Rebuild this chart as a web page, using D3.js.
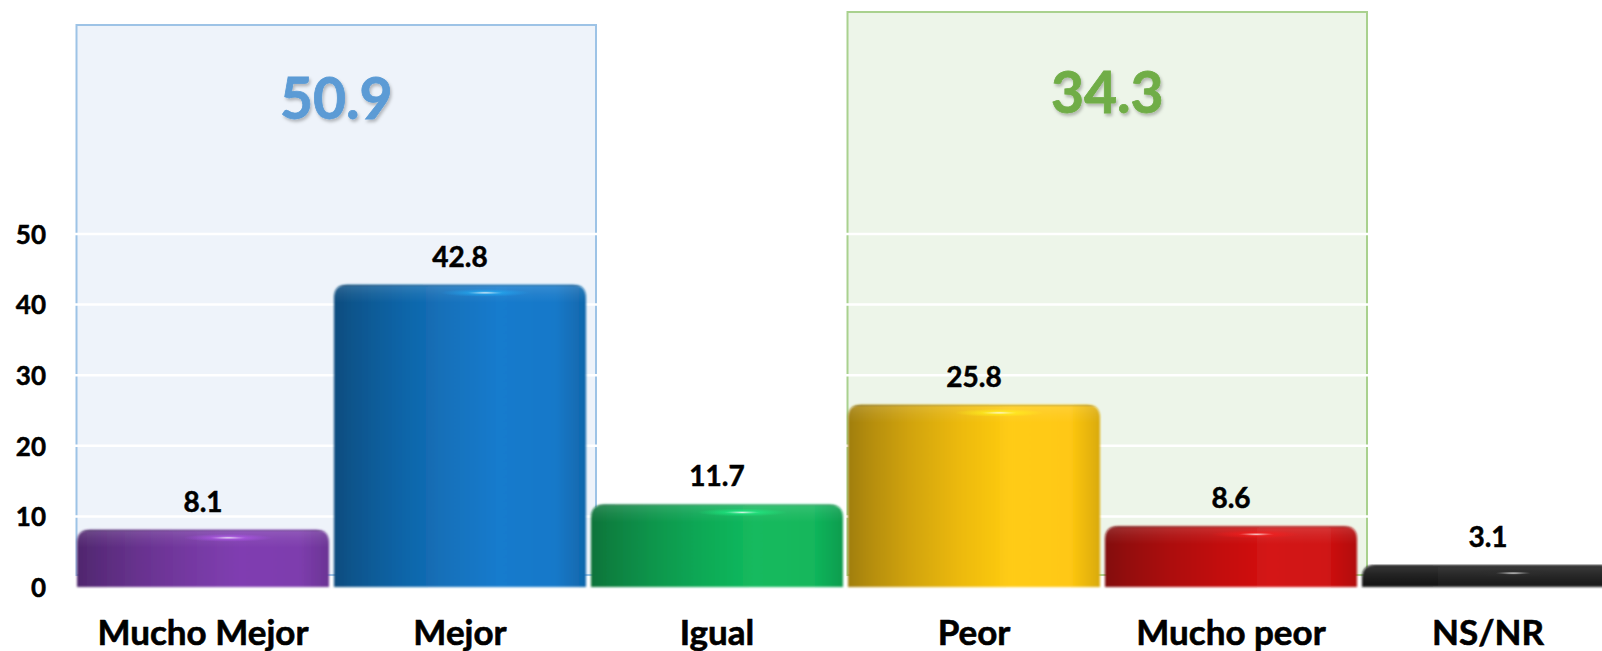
<!DOCTYPE html>
<html><head><meta charset="utf-8">
<script src="https://cdn.jsdelivr.net/npm/d3@7"></script>
<style>
body{margin:0;background:#fff;overflow:hidden;}
svg{display:block;}
text{font-family:Lato,'Open Sans',sans-serif;font-weight:700;}
</style>
</head><body>
<svg id="c" width="1602" height="651"></svg>
<script>
// ---- data ----
const categories = ["Mucho Mejor", "Mejor", "Igual", "Peor", "Mucho peor", "NS/NR"];
const values = [8.1, 42.8, 11.7, 25.8, 8.6, 3.1];
const barColors = ["#7E3DAE", "#1479C9", "#12B75C", "#FFC812", "#D01212", "#1E1E1E"];
const yTicks = [0, 10, 20, 30, 40, 50];
const groupLabels = ["50.9", "34.3"];
const groupFirst = ["Mucho Mejor", "Peor"];
const groupLast = ["Mejor", "Mucho peor"];
const groupStroke = ["#9DC3E6", "#A9D18E"];
const groupFill = ["#EEF3FA", "#EDF5E9"];
const groupTextColor = ["#5B9BD5", "#70AD47"];

// ---- layout ----
const W = 1602, H = 651;
const groupTop = [25, 12];
const groupBaseline = [119, 113];
const groupBottom = 575;

const svg = d3.select("#c");
const x = d3.scaleBand().domain(categories).range([77, 1614]).paddingInner(0.0195).paddingOuter(0);
const y = d3.scaleLinear().domain([0, 50]).range([587, 234]);

const defs = svg.append("defs");
const sh = defs.append("filter").attr("id", "tshadow").attr("x", "-20%").attr("y", "-20%").attr("width", "140%").attr("height", "140%");
sh.append("feDropShadow").attr("dx", 1.5).attr("dy", 2.5).attr("stdDeviation", 1.5).attr("flood-color", "#000").attr("flood-opacity", 0.25);
const soft = defs.append("filter").attr("id", "soft").attr("x", "-5%").attr("y", "-5%").attr("width", "110%").attr("height", "110%");
soft.append("feGaussianBlur").attr("stdDeviation", 0.9);

barColors.forEach((c, i) => {
  const base = d3.color(c);
  const g = defs.append("linearGradient").attr("id", "bg" + i).attr("x1", 0).attr("x2", 1).attr("y1", 0).attr("y2", 0);
  const stops = [
    [0, base.darker(1.3)],
    [0.08, base.darker(1.0)],
    [0.25, base.darker(0.55)],
    [0.45, base.darker(0.2)],
    [0.65, base.brighter(0.05)],
    [0.88, base],
    [1, base.darker(0.45)]
  ];
  stops.forEach(s => g.append("stop").attr("offset", s[0]).attr("stop-color", s[1].formatHex()));
  const hl = defs.append("radialGradient").attr("id", "hl" + i);
  hl.append("stop").attr("offset", 0).attr("stop-color", "#fff").attr("stop-opacity", 0.85);
  hl.append("stop").attr("offset", 0.4).attr("stop-color", base.brighter(1.2).formatHex()).attr("stop-opacity", 0.45);
  hl.append("stop").attr("offset", 1).attr("stop-color", base.brighter(1).formatHex()).attr("stop-opacity", 0);
});
const cap = defs.append("linearGradient").attr("id", "cap").attr("x1", 0).attr("x2", 0).attr("y1", 0).attr("y2", 1);
cap.append("stop").attr("offset", 0).attr("stop-color", "#000").attr("stop-opacity", 0.15);
cap.append("stop").attr("offset", 0.15).attr("stop-color", "#fff").attr("stop-opacity", 0.12);
cap.append("stop").attr("offset", 0.5).attr("stop-color", "#fff").attr("stop-opacity", 0.06);
cap.append("stop").attr("offset", 1).attr("stop-color", "#fff").attr("stop-opacity", 0);

// ---- group boxes ----
groupLabels.forEach((lab, i) => {
  const x0 = x(groupFirst[i]) - 0.5;
  const x1 = x(groupLast[i]) + x.step() + 5;
  svg.append("rect")
    .attr("x", x0).attr("y", groupTop[i])
    .attr("width", x1 - x0).attr("height", groupBottom - groupTop[i])
    .attr("fill", groupFill[i]).attr("stroke", groupStroke[i]).attr("stroke-width", 2);
});

// ---- gridlines ----
svg.append("g").selectAll("line").data(yTicks.filter(t => t > 0)).join("line")
  .attr("x1", 75).attr("x2", 1614)
  .attr("y1", d => y(d)).attr("y2", d => y(d))
  .attr("stroke", "#fff").attr("stroke-width", 2.5);

// group labels
groupLabels.forEach((lab, i) => {
  const x0 = x(groupFirst[i]) - 0.5;
  const x1 = x(groupLast[i]) + x.step() + 5;
  svg.append("text")
    .attr("x", (x0 + x1) / 2).attr("y", groupBaseline[i])
    .attr("text-anchor", "middle")
    .attr("font-size", 57)
    .attr("fill", groupTextColor[i])
    .attr("stroke", groupTextColor[i]).attr("stroke-width", 0.8)
    .attr("filter", "url(#tshadow)")
    .text(lab);
});

// ---- bars ----
const r = 13;
function barPath(x0, w, top, bottom) {
  const rr = Math.min(r, (bottom - top));
  return `M${x0},${bottom}L${x0},${top + rr}Q${x0},${top} ${x0 + rr},${top}L${x0 + w - rr},${top}Q${x0 + w},${top} ${x0 + w},${top + rr}L${x0 + w},${bottom}Z`;
}
const bars = svg.append("g").selectAll("g").data(categories).join("g");
bars.append("path")
  .attr("d", (d, i) => barPath(x(d), x.bandwidth(), y(values[i]), y(0)))
  .attr("fill", (d, i) => `url(#bg${i})`)
  .attr("filter", "url(#soft)");
bars.append("path")
  .attr("d", (d, i) => barPath(x(d), x.bandwidth(), y(values[i]), Math.min(y(0), y(values[i]) + 18)))
  .attr("fill", "url(#cap)");
bars.append("ellipse")
  .attr("cx", d => x(d) + x.bandwidth() * 0.6)
  .attr("cy", (d, i) => y(values[i]) + 8)
  .attr("rx", 45).attr("ry", 4)
  .attr("fill", (d, i) => `url(#hl${i})`);

// value labels
svg.append("g").selectAll("text").data(categories).join("text")
  .attr("x", d => x(d) + x.bandwidth() / 2)
  .attr("y", (d, i) => y(values[i]) - 18)
  .attr("text-anchor", "middle")
  .attr("font-size", 28)
  .attr("fill", "#000").attr("stroke", "#000").attr("stroke-width", 0.5)
  .text((d, i) => values[i].toFixed(1));

// ---- y axis labels ----
const yAxis = d3.axisLeft(y).tickValues(yTicks).tickSize(0).tickPadding(0).tickFormat(d3.format("d"));
const ya = svg.append("g").attr("transform", "translate(46,1)").call(yAxis);
ya.select(".domain").remove();
ya.selectAll("text").attr("font-size", 26).attr("fill", "#000")
  .attr("stroke", "#000").attr("stroke-width", 0.5)
  .attr("font-family", "Lato,'Open Sans',sans-serif").attr("font-weight", 700);

// ---- x axis labels ----
const xAxis = d3.axisBottom(x).tickSize(0).tickPadding(0);
const xa = svg.append("g").attr("transform", "translate(0,620)").call(xAxis);
xa.select(".domain").remove();
xa.selectAll("text").attr("font-size", 35).attr("fill", "#000")
  .attr("stroke", "#000").attr("stroke-width", 0.6)
  .attr("font-family", "Lato,'Open Sans',sans-serif").attr("font-weight", 700)
  .attr("dy", "0.72em");
</script>
</body></html>
